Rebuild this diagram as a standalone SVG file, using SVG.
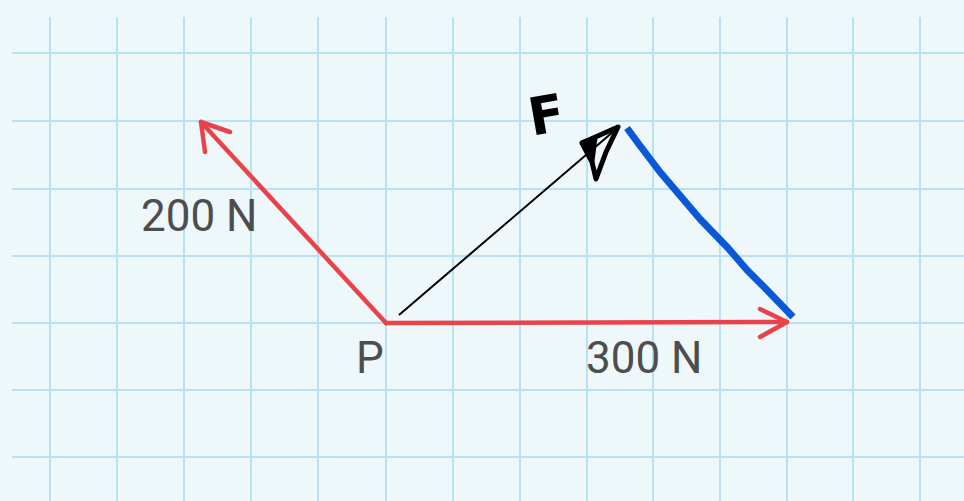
<svg xmlns="http://www.w3.org/2000/svg" width="964" height="501" viewBox="0 0 964 501">
  <style>
    .grid line { stroke: #b8e1f2; stroke-width: 2; }
    .force { stroke: #e8434a; stroke-width: 4.5; fill: none; stroke-linecap: round; stroke-linejoin: round; }
    .lbl { font-family: Roboto, "Liberation Sans", sans-serif; font-size: 44px; fill: #4d4d4f; }
  </style>
  <rect x="0" y="0" width="964" height="501" fill="#eef7fa"/>
  <g class="grid" id="grid">
    <line x1="50" y1="17" x2="50" y2="501"/>
    <line x1="117" y1="17" x2="117" y2="501"/>
    <line x1="184" y1="17" x2="184" y2="501"/>
    <line x1="251" y1="17" x2="251" y2="501"/>
    <line x1="318" y1="17" x2="318" y2="501"/>
    <line x1="386" y1="17" x2="386" y2="501"/>
    <line x1="453" y1="17" x2="453" y2="501"/>
    <line x1="520" y1="17" x2="520" y2="501"/>
    <line x1="587" y1="17" x2="587" y2="501"/>
    <line x1="653" y1="17" x2="653" y2="501"/>
    <line x1="720" y1="17" x2="720" y2="501"/>
    <line x1="787" y1="17" x2="787" y2="501"/>
    <line x1="853" y1="17" x2="853" y2="501"/>
    <line x1="920" y1="17" x2="920" y2="501"/>
    <line x1="12" y1="53" x2="964" y2="53"/>
    <line x1="12" y1="121" x2="964" y2="121"/>
    <line x1="12" y1="189" x2="964" y2="189"/>
    <line x1="12" y1="256" x2="964" y2="256"/>
    <line x1="12" y1="323" x2="964" y2="323"/>
    <line x1="12" y1="390" x2="964" y2="390"/>
    <line x1="12" y1="457" x2="964" y2="457"/>
  </g>
  <g id="connectors">
    <g id="force-200">
      <path class="force" d="M386,323 L201,122"/>
      <path class="force" d="M230,132 L201,122 L205,152"/>
    </g>
    <g id="force-300">
      <path class="force" d="M386,323 L787,322"/>
      <path class="force" d="M760,309 L787,322 L760,337"/>
    </g>
    <g id="resultant-F">
      <path d="M399,315 L614,131" stroke="#000" stroke-width="2" fill="none"/>
      <path d="M618,127 L582,143 L592,162 L596,179 L606,152 Z" stroke="#000" stroke-width="5" fill="none" stroke-linejoin="round"/>
      <path d="M580,141 L598,134 L594,165 L586,152 Z" fill="#000"/>
    </g>
    <g id="closing-line">
      <path d="M627,128 L638,143 L660,172 L700,219 L728,248 L747,270 L766,289 L793,317" stroke="#0a58d6" stroke-width="7" fill="none" stroke-linecap="butt" stroke-linejoin="round"/>
    </g>
  </g>
  <g id="label-200"><text class="lbl" x="141" y="231">200 N</text></g>
  <g id="label-P"><text class="lbl" x="356" y="373">P</text></g>
  <g id="label-300"><text class="lbl" x="586" y="373">300 N</text></g>
  <g id="label-F"><text x="528" y="133" font-family="'DejaVu Sans', sans-serif" font-weight="bold" font-size="52" fill="#000" transform="rotate(-10 545 112)">F</text></g>
</svg>
